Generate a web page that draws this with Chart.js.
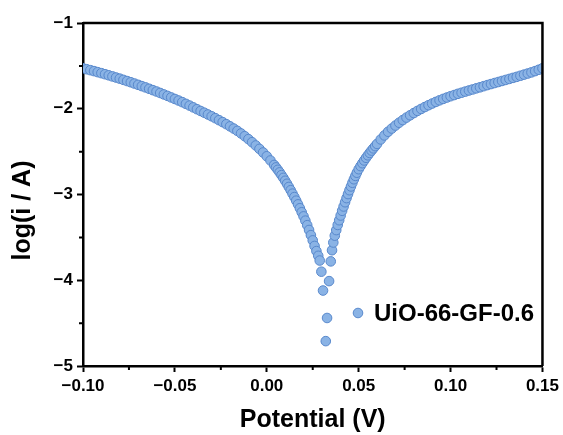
<!DOCTYPE html>
<html>
<head>
<meta charset="utf-8">
<script src="https://cdn.jsdelivr.net/npm/chart.js"></script>
<style>
  html, body { margin: 0; padding: 0; background: #fff; }
  #wrap { width: 563px; height: 435px; position: relative; }
</style>
</head>
<body>
<div id="wrap"><canvas id="tafelChart"></canvas></div>
<script>
  // Tafel scan, potential in V, log of current
  const seriesName = 'UiO-66-GF-0.6';
  const potential = [
    -0.100, -0.098, -0.096, -0.094, -0.092, -0.090, -0.088, -0.086, -0.084, -0.082,
    -0.080, -0.078, -0.076, -0.074, -0.072, -0.070, -0.068, -0.066, -0.064, -0.062,
    -0.060, -0.058, -0.056, -0.054, -0.052, -0.050, -0.048, -0.046, -0.044, -0.042,
    -0.040, -0.038, -0.036, -0.034, -0.032, -0.030, -0.028, -0.026, -0.024, -0.022,
    -0.020, -0.018, -0.016, -0.014, -0.012, -0.010, -0.008, -0.006, -0.004, -0.002,
    0.000, 0.002, 0.004, 0.005, 0.006, 0.007, 0.008, 0.009, 0.010, 0.011,
    0.012, 0.013, 0.014, 0.015, 0.016, 0.017, 0.018, 0.019, 0.020, 0.021,
    0.022, 0.023, 0.024, 0.025, 0.026, 0.027, 0.028, 0.0288, 0.0297, 0.0306,
    0.0321, 0.0328, 0.0339, 0.0348, 0.0355, 0.0362, 0.0370, 0.0378, 0.0386, 0.0394,
    0.0402, 0.0410, 0.0418, 0.0426, 0.0434, 0.0442, 0.0450, 0.0458, 0.0466, 0.0474,
    0.0482, 0.0490, 0.050, 0.051, 0.052, 0.053, 0.054, 0.055, 0.056, 0.057,
    0.058, 0.059, 0.060, 0.062, 0.064, 0.066, 0.068, 0.070, 0.072, 0.074,
    0.076, 0.078, 0.080, 0.082, 0.084, 0.086, 0.088, 0.090, 0.092, 0.094,
    0.096, 0.098, 0.100, 0.102, 0.104, 0.106, 0.108, 0.110, 0.112, 0.114,
    0.116, 0.118, 0.120, 0.122, 0.124, 0.126, 0.128, 0.130, 0.132, 0.134,
    0.136, 0.138, 0.140, 0.142, 0.144, 0.146, 0.148, 0.150
  ];
  const logCurrent = [
    -1.528, -1.539, -1.550, -1.561, -1.573, -1.585, -1.597, -1.610, -1.623, -1.636,
    -1.649, -1.663, -1.677, -1.691, -1.706, -1.721, -1.736, -1.751, -1.767, -1.783,
    -1.799, -1.816, -1.833, -1.850, -1.868, -1.886, -1.904, -1.923, -1.943, -1.963,
    -1.984, -2.005, -2.026, -2.046, -2.067, -2.088, -2.110, -2.133, -2.156, -2.180,
    -2.205, -2.231, -2.258, -2.288, -2.320, -2.354, -2.390, -2.428, -2.468, -2.510,
    -2.554, -2.603, -2.656, -2.684, -2.712, -2.742, -2.774, -2.806, -2.840, -2.875,
    -2.912, -2.950, -2.990, -3.030, -3.072, -3.115, -3.160, -3.207, -3.255, -3.305,
    -3.358, -3.414, -3.474, -3.535, -3.600, -3.660, -3.715, -3.770, -3.900, -4.120,
    -4.710, -4.440, -4.010, -3.780, -3.650, -3.560, -3.480, -3.415, -3.355, -3.300,
    -3.245, -3.190, -3.140, -3.090, -3.042, -2.995, -2.950, -2.906, -2.863, -2.822,
    -2.783, -2.746, -2.705, -2.669, -2.635, -2.603, -2.572, -2.543, -2.515, -2.488,
    -2.462, -2.436, -2.410, -2.358, -2.311, -2.268, -2.231, -2.196, -2.163, -2.132,
    -2.103, -2.076, -2.050, -2.025, -2.002, -1.980, -1.959, -1.939, -1.920, -1.902,
    -1.885, -1.869, -1.854, -1.840, -1.826, -1.813, -1.800, -1.787, -1.775, -1.762,
    -1.750, -1.737, -1.724, -1.712, -1.700, -1.688, -1.676, -1.664, -1.652, -1.640,
    -1.628, -1.615, -1.602, -1.589, -1.576, -1.561, -1.545, -1.528
  ];

  const xTickLabels = ['\u22120.10', '\u22120.05', '0.00', '0.05', '0.10', '0.15'];
  const yTickLabels = ['\u22125', '\u22124', '\u22123', '\u22122', '\u22121'];
  const xMinor = [-0.075, -0.025, 0.025, 0.075, 0.125];
  const yMinor = [-4.5, -3.5, -2.5, -1.5];

  const FONT = 'Arial, "Liberation Sans", sans-serif';
  const pointFill = 'rgb(138,179,229)';
  const pointEdge = 'rgb(88,136,204)';
  const pointSize = 4.8;

  Chart.defaults.font.family = FONT;

  // top/right frame, minor ticks, axis titles and the in-plot legend
  const decor = {
    id: 'decor',
    afterDraw(chart) {
      const { ctx, chartArea: a, scales: { x, y } } = chart;
      ctx.save();
      ctx.strokeStyle = '#000';
      ctx.lineWidth = 2.5;
      ctx.beginPath();
      ctx.moveTo(a.left, a.top);
      ctx.lineTo(a.right, a.top);
      ctx.lineTo(a.right, a.bottom);
      ctx.stroke();

      ctx.lineWidth = 2;
      ctx.beginPath();
      xMinor.forEach(v => {
        const px = x.getPixelForValue(v);
        ctx.moveTo(px, a.bottom);
        ctx.lineTo(px, a.bottom + 4);
      });
      yMinor.forEach(v => {
        const py = y.getPixelForValue(v);
        ctx.moveTo(a.left, py);
        ctx.lineTo(a.left - 4, py);
      });
      ctx.stroke();

      ctx.fillStyle = '#000';
      ctx.textAlign = 'center';
      ctx.textBaseline = 'middle';
      ctx.font = 'bold 25px ' + FONT;
      ctx.fillText('Potential (V)', (a.left + a.right) / 2, a.bottom + 54);
      ctx.save();
      ctx.translate(a.left - 60, (a.top + a.bottom) / 2 + 16);
      ctx.rotate(-Math.PI / 2);
      ctx.fillText('log(i / A)', 0, 0);
      ctx.restore();

      // legend
      const lx = a.left + 275, ly = a.top + 290;
      ctx.beginPath();
      ctx.arc(lx, ly, pointSize, 0, Math.PI * 2);
      ctx.fillStyle = pointFill;
      ctx.fill();
      ctx.lineWidth = 1;
      ctx.strokeStyle = pointEdge;
      ctx.stroke();
      ctx.fillStyle = '#000';
      ctx.textAlign = 'left';
      ctx.font = 'bold 24px ' + FONT;
      ctx.fillText(seriesName, lx + 16, ly + 1);
      ctx.restore();
    }
  };

  const ctx = document.getElementById('tafelChart').getContext('2d');
  const tafelChart = new Chart(ctx, {
    type: 'scatter',
    data: {
      datasets: [{
        label: seriesName,
        data: potential.map((v, i) => ({ x: v, y: logCurrent[i] })),
        pointRadius: pointSize,
        pointBorderWidth: 1,
        backgroundColor: pointFill,
        borderColor: pointEdge
      }]
    },
    options: {
      responsive: true,
      maintainAspectRatio: false,
      animation: false,
      events: [],
      layout: { padding: { left: 0, top: 23, right: 20, bottom: 0 } },
      plugins: {
        legend: { display: false },
        tooltip: { enabled: false }
      },
      scales: {
        x: {
          type: 'linear',
          min: -0.1,
          max: 0.15,
          afterFit(s) { s.height = 69; },
          border: { display: true, color: '#000', width: 2.5 },
          grid: { drawOnChartArea: false, drawTicks: true, tickLength: 6, tickWidth: 2, tickColor: '#000' },
          ticks: {
            stepSize: 0.05,
            padding: 4,
            autoSkip: false,
            maxRotation: 0,
            color: '#000',
            font: { size: 17, weight: 'bold' },
            callback: (v, i) => xTickLabels[i]
          }
        },
        y: {
          type: 'linear',
          min: -5,
          max: -1,
          afterFit(s) { s.width = 83; },
          border: { display: true, color: '#000', width: 2.5 },
          grid: { drawOnChartArea: false, drawTicks: true, tickLength: 6, tickWidth: 2, tickColor: '#000' },
          ticks: {
            stepSize: 1,
            padding: 4,
            autoSkip: false,
            color: '#000',
            font: { size: 17, weight: 'bold' },
            callback: (v, i) => yTickLabels[i]
          }
        }
      }
    },
    plugins: [decor]
  });
</script>
</body>
</html>
